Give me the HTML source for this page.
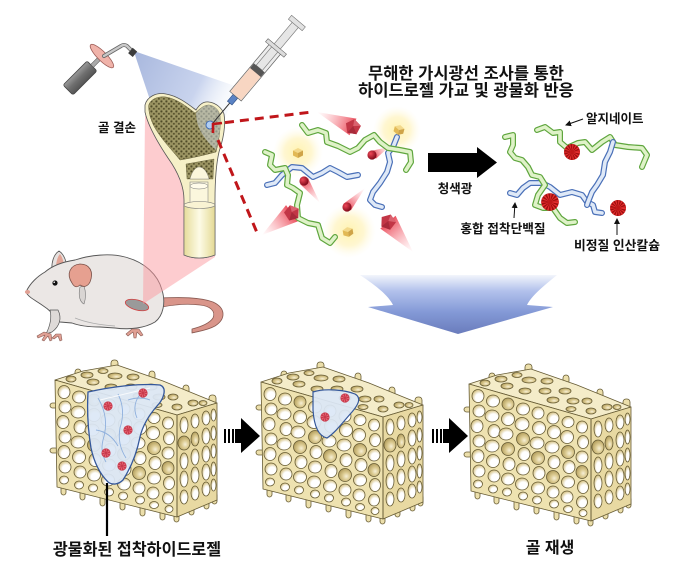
<!DOCTYPE html>
<html><head><meta charset="utf-8"><style>
html,body{margin:0;padding:0;background:#fff;}
svg{display:block;}
text{font-family:"Liberation Sans","Noto Sans CJK KR",sans-serif;font-weight:bold;fill:#111;}
</style></head><body>
<svg width="680" height="571" viewBox="0 0 680 571" xmlns="http://www.w3.org/2000/svg">
<defs>
  <pattern id="spongy" width="5" height="5" patternUnits="userSpaceOnUse">
    <rect width="5" height="5" fill="#989160"/>
    <circle cx="1.4" cy="1.4" r="1.05" fill="#4f4b28"/>
    <circle cx="3.9" cy="3.8" r="0.95" fill="#56512b"/>
    <circle cx="4" cy="1" r="0.5" fill="#d0ca98"/>
  </pattern>
  <radialGradient id="glow" cx="0.5" cy="0.5" r="0.5">
    <stop offset="0" stop-color="#fff3b0" stop-opacity="1"/>
    <stop offset="0.55" stop-color="#fff4c2" stop-opacity="0.75"/>
    <stop offset="1" stop-color="#fffbe8" stop-opacity="0"/>
  </radialGradient>
  <radialGradient id="rball" cx="0.35" cy="0.35" r="0.7">
    <stop offset="0" stop-color="#f04858"/>
    <stop offset="1" stop-color="#7a0616"/>
  </radialGradient>
  <linearGradient id="coneG" x1="0" y1="0" x2="1" y2="0">
    <stop offset="0" stop-color="#ff9aa4" stop-opacity="0"/>
    <stop offset="1" stop-color="#e8404f" stop-opacity="0.9"/>
  </linearGradient>
  <linearGradient id="blueArrow" gradientUnits="userSpaceOnUse" x1="0" y1="272" x2="0" y2="334">
    <stop offset="0" stop-color="#ffffff"/>
    <stop offset="0.3" stop-color="#b3c2ec"/>
    <stop offset="0.65" stop-color="#8399d6"/>
    <stop offset="1" stop-color="#6a7cbc"/>
  </linearGradient>
  <linearGradient id="lightCone" gradientUnits="userSpaceOnUse" x1="134" y1="54" x2="225" y2="100">
    <stop offset="0" stop-color="#9fb0da"/>
    <stop offset="0.7" stop-color="#c3cfec"/>
    <stop offset="1" stop-color="#e8eef8" stop-opacity="0.4"/>
  </linearGradient>
  <linearGradient id="shaft" x1="0" y1="0" x2="1" y2="0">
    <stop offset="0" stop-color="#e6dc9a"/>
    <stop offset="0.5" stop-color="#fdfbe6"/>
    <stop offset="1" stop-color="#e4d994"/>
  </linearGradient>
  <linearGradient id="cyl" x1="0" y1="0" x2="0" y2="1">
    <stop offset="0" stop-color="#9a9a9a"/>
    <stop offset="0.5" stop-color="#6e6e6e"/>
    <stop offset="1" stop-color="#555"/>
  </linearGradient>
  <radialGradient id="hole" cx="0.6" cy="0.64" r="0.62">
    <stop offset="0.5" stop-color="#ffffff"/>
    <stop offset="1" stop-color="#d6c386"/>
  </radialGradient>
  <radialGradient id="holeD" cx="0.6" cy="0.6" r="0.62">
    <stop offset="0" stop-color="#f6efd6"/>
    <stop offset="0.45" stop-color="#dccb92"/>
    <stop offset="1" stop-color="#b29d5c"/>
  </radialGradient>
  <marker id="ah" markerWidth="6" markerHeight="6" refX="5" refY="3" orient="auto" markerUnits="userSpaceOnUse">
    <path d="M0,0 L6,3 L0,6 Z" fill="#111"/>
  </marker>

  <g id="cube">
    <path d="M0,-5 L5,-2.5 L0,0 L-5,-2.5 Z" fill="#f3d98b"/>
    <path d="M-5,-2.5 L0,0 L0,5 L-5,2.5 Z" fill="#e2b955"/>
    <path d="M0,0 L5,-2.5 L5,2.5 L0,5 Z" fill="#cfa448"/>
  </g>
  <g id="pent">
    <polygon points="0,-8 7.6,-2.5 4.7,6.5 -4.7,6.5 -7.6,-2.5" fill="#c23646"/>
    <polygon points="0,-8 7.6,-2.5 0,-1" fill="#d9626f"/>
    <polygon points="-4.7,6.5 4.7,6.5 0,-1" fill="#a82a3a"/>
  </g>
  <g id="spiky">
    <circle r="8" fill="#a00e0e"/>
    <circle r="4.2" fill="none" stroke="#e63030" stroke-width="7.6" stroke-dasharray="0.8 1"/>
    <circle r="1.8" fill="#c01818"/>
  </g>
  <g id="dot">
    <circle r="4.6" fill="#c83a4c"/>
    <circle r="2.6" fill="none" stroke="#e86a78" stroke-width="2.6" stroke-dasharray="0.8 1.2"/>
  </g>

  <!-- bone block -->
  <g id="blk" stroke="#665b34" stroke-width="0.8" stroke-linejoin="round">
    <g fill="#ecdfab">
      <rect x="8" y="118" width="5" height="14" rx="2.5"/>
      <rect x="27" y="123" width="5" height="14" rx="2.5"/>
      <rect x="47" y="128" width="5" height="15" rx="2.5"/>
      <rect x="67" y="133" width="5" height="14" rx="2.5"/>
      <rect x="87" y="138" width="5" height="15" rx="2.5"/>
      <rect x="107" y="143" width="5" height="14" rx="2.5"/>
      <rect x="121" y="146" width="5" height="13" rx="2.5"/>
      <rect x="136" y="140" width="5" height="12" rx="2.5"/>
      <rect x="151" y="134" width="5" height="12" rx="2.5"/>
      <rect x="159" y="130" width="5" height="11" rx="2.5"/>
      <rect x="22" y="6" width="6" height="9" rx="3"/>
      <rect x="58" y="-3" width="7" height="9" rx="3"/>
      <rect x="96" y="8" width="6" height="9" rx="3"/>
      <rect x="130" y="22" width="6" height="10" rx="3"/>
      <rect x="156" y="32" width="7" height="12" rx="3"/>
      <rect x="-3" y="40" width="8" height="5" rx="2.5"/>
      <rect x="-3" y="85" width="8" height="5" rx="2.5"/>
    </g>
    <polygon points="2,17 30,8 64,2 110,18 164,40 124,52" fill="#f4ecc9"/>
    <polygon points="2,17 124,52 124,154 4,124" fill="#eee2b0"/>
    <polygon points="124,52 164,40 164,137 124,154" fill="#e8d9a2"/>
    <g fill="url(#hole)">
      <ellipse cx="11" cy="29" rx="6" ry="6.5"/><ellipse cx="12" cy="44" rx="6" ry="6"/><ellipse cx="10" cy="59" rx="6" ry="6.5"/><ellipse cx="12" cy="74" rx="6" ry="6"/><ellipse cx="11" cy="89" rx="6" ry="6.5"/><ellipse cx="12" cy="104" rx="6" ry="6"/><ellipse cx="11" cy="117" rx="4.5" ry="4"/>
      <ellipse cx="26" cy="34" rx="6.5" ry="6"/><ellipse cx="25" cy="49" rx="7" ry="6"/><ellipse cx="27" cy="64" rx="6" ry="6.5"/><ellipse cx="25" cy="79" rx="7" ry="6"/><ellipse cx="26" cy="94" rx="6.5" ry="6.5"/><ellipse cx="27" cy="109" rx="6" ry="6"/><ellipse cx="26" cy="122" rx="4.5" ry="4"/>
      <ellipse cx="41" cy="52" rx="6.5" ry="6.5"/><ellipse cx="39" cy="67" rx="7" ry="6"/><ellipse cx="42" cy="97" rx="6" ry="6.5"/><ellipse cx="41" cy="112" rx="6.5" ry="6"/><ellipse cx="40" cy="125" rx="4.5" ry="4"/>
      <ellipse cx="56" cy="42" rx="6.5" ry="6"/><ellipse cx="55" cy="57" rx="7" ry="6.5"/><ellipse cx="57" cy="87" rx="6" ry="6.5"/><ellipse cx="56" cy="102" rx="6.5" ry="6"/><ellipse cx="55" cy="117" rx="6.5" ry="6"/><ellipse cx="56" cy="129" rx="4.5" ry="4"/>
      <ellipse cx="71" cy="46" rx="6" ry="6"/><ellipse cx="72" cy="61" rx="6.5" ry="6.5"/><ellipse cx="70" cy="76" rx="7" ry="6"/><ellipse cx="72" cy="106" rx="6" ry="6.5"/><ellipse cx="71" cy="121" rx="6.5" ry="6"/><ellipse cx="70" cy="133" rx="4.5" ry="4"/>
      <ellipse cx="86" cy="51" rx="6" ry="6"/><ellipse cx="87" cy="65" rx="6.5" ry="6.5"/><ellipse cx="85" cy="80" rx="7" ry="6"/><ellipse cx="87" cy="95" rx="6" ry="6.5"/><ellipse cx="86" cy="125" rx="6" ry="6"/><ellipse cx="87" cy="137" rx="4.5" ry="4"/>
      <ellipse cx="101" cy="55" rx="6" ry="5.5"/><ellipse cx="100" cy="70" rx="6.5" ry="6.5"/><ellipse cx="102" cy="100" rx="6" ry="6.5"/><ellipse cx="101" cy="115" rx="6.5" ry="6"/><ellipse cx="100" cy="130" rx="6" ry="6"/><ellipse cx="101" cy="142" rx="4.5" ry="3.5"/>
      <ellipse cx="115" cy="60" rx="5.5" ry="6"/><ellipse cx="116" cy="75" rx="5.5" ry="6.5"/><ellipse cx="115" cy="90" rx="6" ry="6"/><ellipse cx="116" cy="120" rx="5.5" ry="6.5"/><ellipse cx="115" cy="135" rx="5.5" ry="6"/><ellipse cx="116" cy="146" rx="4" ry="3.5"/>
      <ellipse cx="131" cy="62" rx="4" ry="8"/><ellipse cx="131" cy="98" rx="4" ry="8"/><ellipse cx="131" cy="116" rx="4" ry="8"/><ellipse cx="131" cy="134" rx="4" ry="7"/>
      <ellipse cx="142" cy="58" rx="4" ry="7"/><ellipse cx="142" cy="94" rx="4" ry="8"/><ellipse cx="142" cy="112" rx="4" ry="8"/><ellipse cx="142" cy="130" rx="4" ry="7"/>
      <ellipse cx="153" cy="55" rx="4" ry="7"/><ellipse cx="153" cy="73" rx="4" ry="8"/><ellipse cx="153" cy="91" rx="4" ry="8"/><ellipse cx="153" cy="109" rx="4" ry="8"/><ellipse cx="153" cy="126" rx="4" ry="7"/>
      <ellipse cx="160.5" cy="52" rx="2.5" ry="6"/><ellipse cx="160.5" cy="70" rx="2.5" ry="7"/><ellipse cx="160.5" cy="88" rx="2.5" ry="7"/><ellipse cx="160.5" cy="106" rx="2.5" ry="7"/><ellipse cx="160.5" cy="122" rx="2.5" ry="6"/>
    </g>
    <g fill="url(#holeD)">
      <ellipse cx="41" cy="37" rx="6" ry="6"/><ellipse cx="41" cy="82" rx="6.5" ry="6.5"/>
      <ellipse cx="56" cy="72" rx="6.5" ry="6.5"/><ellipse cx="71" cy="91" rx="6.5" ry="6.5"/>
      <ellipse cx="86" cy="110" rx="6.5" ry="6.5"/><ellipse cx="101" cy="85" rx="6.5" ry="6.5"/>
      <ellipse cx="115" cy="105" rx="6" ry="6.5"/><ellipse cx="131" cy="80" rx="6" ry="7"/>
      <ellipse cx="142" cy="76" rx="4" ry="7"/>
      <ellipse cx="18" cy="16" rx="5" ry="3"/><ellipse cx="34" cy="12" rx="6" ry="3"/><ellipse cx="50" cy="8" rx="5" ry="2.5"/>
      <ellipse cx="40" cy="19" rx="6" ry="3"/><ellipse cx="62" cy="13" rx="7" ry="3"/><ellipse cx="80" cy="14" rx="6" ry="3"/>
      <ellipse cx="58" cy="24" rx="6" ry="3"/><ellipse cx="78" cy="24" rx="6" ry="3"/><ellipse cx="98" cy="24" rx="6" ry="3"/>
      <ellipse cx="86" cy="33" rx="6" ry="3"/><ellipse cx="106" cy="34" rx="6" ry="3"/><ellipse cx="120" cy="34" rx="5" ry="3"/>
      <ellipse cx="104" cy="42" rx="5" ry="2.5"/><ellipse cx="124" cy="44" rx="5" ry="3"/><ellipse cx="140" cy="40" rx="5" ry="3"/><ellipse cx="150" cy="40" rx="4" ry="2.5"/>
    </g>
    <line x1="124" y1="52" x2="124" y2="154" stroke-width="1"/>
  </g>

  <!-- strands -->
  <path id="g1" d="M302,125 L308,133 L318,130 L326,133 L327,142 L338,146 L350,152 L358,148 L365,140 L374,135 L380,142 L388,148 L400,150 L410,152 L411,162 L406,170"/>
  <path id="g2" d="M265,152 L272,155 L270,165 L275,170 L285,168 L288,175 L287,185 L293,188 L300,193 L297,205 L298,218 L308,223 L318,225 L322,238 L330,243 L335,237"/>
  <path id="b1" d="M267,185 L275,183 L282,175 L292,167 L302,168 L313,177 L322,173 L330,168 L338,172 L347,177 L358,175"/>
  <path id="b2" d="M397,137 L393,147 L388,153 L390,162 L387,172 L380,183 L373,192 L370,200 L375,205 L382,207"/>
  <path id="ga" d="M537,130 L545,127 L553,133 L560,132 L560,142 L567,148 L578,143 L585,142 L592,150 L602,142 L610,137 L615,145 L628,147 L642,148 L647,155 L642,167"/>
  <path id="gb" d="M505,137 L513,135 L513,145 L510,152 L515,158 L522,160 L528,167 L532,175 L540,177 L545,185 L538,195 L535,205 L543,208 L553,208 L560,218 L567,223 L575,222"/>
  <path id="bc" d="M510,193 L517,195 L523,188 L530,183 L542,183 L550,187 L560,195 L572,192 L582,195 L587,202 L593,205 L595,212 L602,213"/>
  <path id="bd" d="M613,142 L610,152 L605,162 L603,175 L597,185 L592,192 L588,202 L587,205"/>
</defs>

<rect width="680" height="571" fill="#fff"/>

<!-- ===== Mouse ===== -->
<g stroke-linejoin="round">
  <path d="M160,298 C180,297 200,297 213,302 C226,308 226,319 215,326 C208,330 200,331 192,333 L192,329 C200,327 209,324 213,318 C216,311 210,306 200,305 C185,303 172,305 162,307 Z" fill="#d9958a" stroke="#8a5a52" stroke-width="0.8"/>
  <path d="M52,272 C51,262 54,254 59,251 C64,254 67,262 67,270 Z" fill="#e6e1df" stroke="#555" stroke-width="0.8"/>
  <path d="M56,268 C56,261 58,256 60,254 C63,258 64,263 64,268 Z" fill="#e2a496"/>
  <path d="M26,292 C30,283 38,276 45,272 C52,266 62,262 75,260 C90,255 110,253 125,257 C145,262 158,275 162,290 C166,303 163,316 155,322 C145,328 130,330 115,328 L100,327 C90,327 80,326 72,323 L60,322 C55,316 50,310 42,305 C35,300 28,297 26,292 Z" fill="#ebe7e5" stroke="#555" stroke-width="0.9"/>
  <path d="M58,310 C62,318 60,326 52,332 L46,334 C50,326 52,318 50,310 Z" fill="#dedad8" stroke="#555" stroke-width="0.7"/>
  <path d="M75,318 C85,322 100,325 115,326" fill="none" stroke="#aaa" stroke-width="0.7"/>
  <path d="M80,287 C78,296 80,302 84,304 C86,298 86,292 84,286 Z" fill="#d9d5d3" stroke="#777" stroke-width="0.6"/>
  <path d="M72,283 C66,274 70,265 80,264 C90,264 94,272 90,282 C88,286 84,288 80,285 C77,288 74,287 72,283 Z" fill="#e6a090" stroke="#7a5048" stroke-width="0.8"/>
  <circle cx="55" cy="283" r="2.6" fill="#111"/>
  <circle cx="54.2" cy="282.2" r="0.8" fill="#fff"/>
  <ellipse cx="27.5" cy="292" rx="2.6" ry="2" fill="#e0a094"/>
  <g fill="#e0a094" stroke="#8a5a52" stroke-width="0.6">
    <path d="M44,332 L37,336 L38,338 L45,335 L42,340 L44,341 L48,336 L50,341 L52,340 L51,334 Z"/>
    <path d="M56,334 L52,338 L54,339 L58,336 L60,341 L62,340 L61,334 Z"/>
    <path d="M132,329 L126,334 L128,336 L133,332 L134,338 L136,338 L137,332 L141,336 L143,335 L139,329 Z"/>
  </g>
  <ellipse cx="137" cy="305" rx="12" ry="5" transform="rotate(15 137 305)" fill="#9a9a9a" stroke="#d04040" stroke-width="0.8"/>
</g>

<!-- pink projection -->
<polygon points="145,116 205,116 215,257 143,304" fill="#fb9aa0" opacity="0.5"/>

<!-- ===== Lamp ===== -->
<polygon points="134,51 238,87 224,120 150,100 136,58" fill="url(#lightCone)" opacity="0.9"/>
<g transform="translate(68,90) rotate(-45)">
  <rect x="0" y="-7" width="34" height="14" rx="2" fill="url(#cyl)" stroke="#444" stroke-width="0.8"/>
  <rect x="34" y="-2" width="10" height="4" fill="#aaa" stroke="#555" stroke-width="0.5"/>
  <ellipse cx="48" cy="0" rx="4.5" ry="16" fill="#f0b3aa" stroke="#9a5a55" stroke-width="0.8"/>
</g>
<path d="M104,56 L121,46 Q124,44 127,46 L133,52" fill="none" stroke="#666" stroke-width="4" stroke-linecap="round"/>
<path d="M104,56 L121,46 Q124,44 127,46 L133,52" fill="none" stroke="#c9c9c9" stroke-width="2.4" stroke-linecap="round"/>
<rect x="130" y="49" width="6" height="7" fill="#3c3c3c" transform="rotate(40 133 52)"/>

<!-- ===== Femur ===== -->
<path d="M145,105 C147,97 156,92 166,94 C178,96 188,104 196,110 C199,105 203,101 209,102 C216,103 222,108 224,114 C226,126 223,140 219,152 C216,165 215,180 215,200 L215,255 C205,259 193,259 184,255 L184,200 C184,186 178,172 168,158 C158,143 148,126 145,112 Z" fill="#f6f0c8" stroke="#555" stroke-width="0.8"/>
<path d="M148.5,106 C150,99 158,96 166,97 C177,99 186,106 195,113 C199,110 203,105 209,105 C215,106 219,110 220,116 C221,128 219,140 216,152 C205,155 192,158 180,160 C172,150 162,140 155,128 C151,121 149,114 148.5,106 Z" fill="url(#spongy)" stroke="#6a6540" stroke-width="0.5"/>
<path d="M196,113 C199,110 203,105 209,105 C215,106 219,110 220,116 C221,128 219,140 216,150 C205,140 196,128 196,113 Z" fill="#cfd9e2" opacity="0.5"/>
<path d="M186,164 L214,159 L213,179 L187,179 Z" fill="url(#spongy)" stroke="#6a6540" stroke-width="0.4"/>
<path d="M190,179 C192,171 196,167 199,167 C203,167 207,171 209,179 Z" fill="#fbf6dc" stroke="#777" stroke-width="0.4"/>
<rect x="190" y="182" width="18" height="22" fill="#fbf7dd" stroke="#777" stroke-width="0.5"/>
<ellipse cx="199" cy="186" rx="9" ry="3" fill="#fffbea" stroke="#777" stroke-width="0.5"/>
<path d="M184,205 C193,209 206,209 215,205 L215,255 C205,259 193,259 184,255 Z" fill="url(#shaft)" stroke="#666" stroke-width="0.7"/>
<ellipse cx="199.5" cy="205" rx="15.5" ry="3.5" fill="#f9f3d3" stroke="#777" stroke-width="0.6"/>
<circle cx="210" cy="125" r="4" fill="#b0cdf2" stroke="#3060b0" stroke-width="0.8"/>

<!-- ===== Syringe ===== -->
<g transform="translate(213,123) rotate(-50)">
  <line x1="0" y1="0" x2="27" y2="0" stroke="#333" stroke-width="1"/>
  <rect x="26" y="-3" width="9" height="6" fill="#5a82c4" stroke="#2a4a80" stroke-width="0.6"/>
  <rect x="35" y="-7.5" width="62" height="15" fill="#ececec" stroke="#666" stroke-width="0.7"/>
  <rect x="35.5" y="-7" width="31" height="14" fill="#f8d6c2"/>
  <rect x="72" y="-4" width="58" height="8" fill="#e6e6e6" stroke="#777" stroke-width="0.6"/>
  <rect x="66" y="-7" width="6" height="14" fill="#555"/>
  <rect x="96" y="-12" width="4" height="24" fill="#dcdcdc" stroke="#666" stroke-width="0.6"/>
  <rect x="128" y="-9" width="5" height="18" fill="#e2e2e2" stroke="#777" stroke-width="0.6"/>
</g>

<text x="117" y="132" font-size="12.5" text-anchor="middle">골 결손</text>

<!-- red dashed zoom lines -->
<path d="M213,133 L213,124 L222,123" fill="none" stroke="#c0161a" stroke-width="2.6"/>
<path d="M225,122.6 L312,112" fill="none" stroke="#c0161a" stroke-width="3" stroke-dasharray="9 6"/>
<path d="M218,140 L258,235" fill="none" stroke="#c0161a" stroke-width="3" stroke-dasharray="9 6"/>

<!-- ===== Title ===== -->
<text x="466" y="79" font-size="16.5" text-anchor="middle">무해한 가시광선 조사를 통한</text>
<text x="466" y="96" font-size="16.5" text-anchor="middle">하이드로젤 가교 및 광물화 반응</text>

<!-- ===== Left molecules ===== -->
<circle cx="298" cy="152" r="25" fill="url(#glow)"/>
<circle cx="397" cy="130" r="24" fill="url(#glow)"/>
<circle cx="349" cy="231" r="27" fill="url(#glow)"/>
<polygon points="0,0 39,-9 39,9" fill="url(#coneG)" transform="translate(317,112) rotate(22.6)"/>
<polygon points="0,0 37,-10 37,10" fill="url(#coneG)" transform="translate(262,235) rotate(-36)"/>
<polygon points="0,0 39,-10 39,10" fill="url(#coneG)" transform="translate(413,252) rotate(-130)"/>
<polygon points="0,0 17,-4.5 17,4.5" fill="url(#coneG)" transform="translate(389,147) rotate(153)"/>
<polygon points="0,0 27,-5 27,5" fill="url(#coneG)" transform="translate(320,203) rotate(-126)"/>
<polygon points="0,0 26,-5 26,5" fill="url(#coneG)" transform="translate(365,188) rotate(133)"/>
<g stroke-linecap="round" stroke-linejoin="round" fill="none">
  <use href="#b1" stroke="#4a70b8" stroke-width="6"/><use href="#b1" stroke="#dfe9f7" stroke-width="3.6"/>
  <use href="#b2" stroke="#4a70b8" stroke-width="6"/><use href="#b2" stroke="#dfe9f7" stroke-width="3.6"/>
  <use href="#g1" stroke="#5fa63e" stroke-width="6"/><use href="#g1" stroke="#dff2c8" stroke-width="3.6"/>
  <use href="#g2" stroke="#5fa63e" stroke-width="6"/><use href="#g2" stroke="#dff2c8" stroke-width="3.6"/>
</g>
<use href="#cube" transform="translate(298,153)"/>
<use href="#cube" transform="translate(399,130) rotate(15)"/>
<use href="#cube" transform="translate(348,232) rotate(-10)"/>
<use href="#pent" transform="translate(353,127) rotate(10)"/>
<use href="#pent" transform="translate(292,213) rotate(-15)"/>
<use href="#pent" transform="translate(388,222) rotate(20)"/>
<circle cx="372" cy="155" r="4.6" fill="url(#rball)"/>
<circle cx="304" cy="181" r="4.6" fill="url(#rball)"/>
<circle cx="347" cy="207" r="4.6" fill="url(#rball)"/>

<!-- black arrow -->
<polygon points="428,153 477,153 477,147 497,162.5 477,178 477,172 428,172" fill="#000"/>
<text x="455" y="193" font-size="12.5" text-anchor="middle">청색광</text>

<!-- ===== Right molecules ===== -->
<g stroke-linecap="round" stroke-linejoin="round" fill="none">
  <use href="#bc" stroke="#4a70b8" stroke-width="6"/><use href="#bc" stroke="#dfe9f7" stroke-width="3.6"/>
  <use href="#gb" stroke="#5fa63e" stroke-width="6"/><use href="#gb" stroke="#dff2c8" stroke-width="3.6"/>
  <use href="#ga" stroke="#5fa63e" stroke-width="6"/><use href="#ga" stroke="#dff2c8" stroke-width="3.6"/>
  <use href="#bd" stroke="#4a70b8" stroke-width="6"/><use href="#bd" stroke="#dfe9f7" stroke-width="3.6"/>
</g>
<use href="#spiky" transform="translate(572,152)"/>
<use href="#spiky" transform="translate(550,202) scale(1.1)"/>
<use href="#spiky" transform="translate(618,208)"/>

<text x="586" y="123" font-size="12.5">알지네이트</text>
<line x1="583" y1="119" x2="566" y2="125" stroke="#111" stroke-width="1" marker-end="url(#ah)"/>
<text x="503" y="233" font-size="12.7" text-anchor="middle">홍합 접착단백질</text>
<line x1="514" y1="218" x2="515" y2="203" stroke="#111" stroke-width="1" marker-end="url(#ah)"/>
<text x="617" y="250" font-size="12.8" text-anchor="middle">비정질 인산칼슘</text>
<line x1="617" y1="235" x2="617" y2="219" stroke="#111" stroke-width="1" marker-end="url(#ah)"/>

<!-- big blue arrow -->
<path d="M360,275 C375,285 388,295 393,305 L368,307 L458,334 L553,307 L527,305 C532,295 545,285 557,275 Z" fill="url(#blueArrow)"/>

<!-- ===== Bone blocks ===== -->
<use href="#blk" transform="translate(53,363)"/>
<use href="#blk" transform="translate(259,365)"/>
<use href="#blk" transform="translate(467,367)"/>

<!-- hydrogel 1 -->
<path d="M88,392 C110,387 140,383 160,385 C168,388 163,400 157,406 C150,414 143,424 140,437 C137,452 132,466 123,480 C118,485 112,485 108,482 C100,474 94,462 91,448 C88,430 87,410 88,392 Z" fill="#dbe7f6" fill-opacity="0.93" stroke="#34579a" stroke-width="1.3"/>
<g fill="none" stroke="#8fb0dd" stroke-width="0.9">
  <path d="M98,398 Q110,418 103,440 Q100,452 106,462"/>
  <path d="M118,394 Q126,410 120,428 Q117,444 126,458"/>
  <path d="M142,392 Q131,404 137,418"/>
  <path d="M96,430 Q110,432 118,446"/>
  <path d="M128,400 Q140,396 150,400"/>
</g>
<path d="M100,400 L150,388" stroke="#fff" stroke-width="1" opacity="0.8"/>
<use href="#dot" transform="translate(108,406)"/>
<use href="#dot" transform="translate(143,393)"/>
<use href="#dot" transform="translate(128,430)"/>
<use href="#dot" transform="translate(106,453)"/>
<use href="#dot" transform="translate(122,466)"/>
<line x1="107" y1="483" x2="107" y2="536" stroke="#000" stroke-width="2.2"/>

<!-- hydrogel 2 -->
<path d="M313,392 C325,388 345,390 355,394 C362,398 358,405 352,412 C343,422 336,432 327,438 C318,436 314,425 313,410 Z" fill="#dbe7f6" fill-opacity="0.93" stroke="#34579a" stroke-width="1.2"/>
<use href="#dot" transform="translate(345,398)"/>
<use href="#dot" transform="translate(325,417)"/>

<!-- striped arrows -->
<g fill="#000">
  <rect x="224" y="429" width="2" height="14"/><rect x="228" y="429" width="2" height="14"/><rect x="232" y="429" width="2" height="14"/>
  <rect x="235" y="429" width="8" height="14"/>
  <polygon points="241,418 260,436 241,453"/>
  <rect x="432" y="429" width="2" height="14"/><rect x="436" y="429" width="2" height="14"/><rect x="440" y="429" width="2" height="14"/>
  <rect x="443" y="429" width="8" height="14"/>
  <polygon points="449,418 468,436 449,453"/>
</g>

<text x="137" y="555" font-size="16.2" text-anchor="middle">광물화된 접착하이드로젤</text>
<text x="550" y="553" font-size="16" text-anchor="middle">골 재생</text>
</svg>
</body></html>
